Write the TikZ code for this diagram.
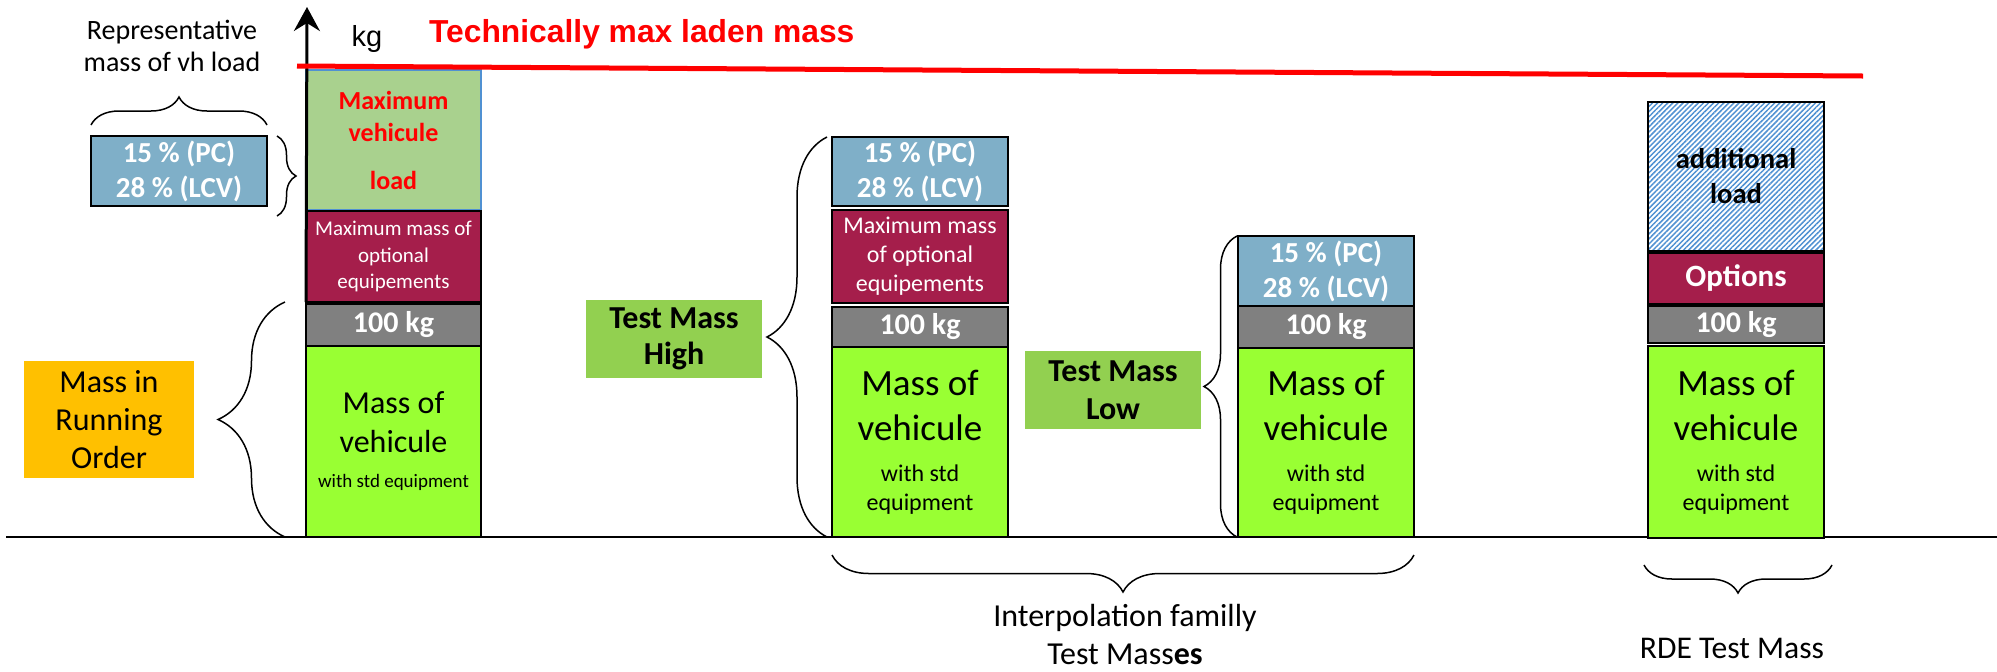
\documentclass[tikz,border=0pt]{standalone}
\usepackage{fontspec}
\setmainfont{Carlito}
\newfontfamily\arialfont{Liberation Sans}
\usetikzlibrary{positioning,arrows.meta,decorations.pathreplacing,patterns.meta}
\definecolor{pctblue}{RGB}{127,175,200}
\definecolor{loadgreen}{RGB}{169,209,142}
\definecolor{optred}{RGB}{165,30,75}
\definecolor{kggray}{RGB}{128,128,128}
\definecolor{vehgreen}{RGB}{153,255,51}
\definecolor{mroorange}{RGB}{255,192,0}
\definecolor{testgreen}{RGB}{146,208,80}
\definecolor{hatchblue}{RGB}{80,145,210}
\newcommand{\fsz}[2]{\fontsize{#1}{#2}\selectfont}
\tikzset{
  bar/.style={draw=black, line width=0.8pt, inner sep=0pt, outer sep=0pt, align=center, minimum width=88pt},
  pctbox/.style={bar, fill=pctblue, text=white, font=\bfseries\fsz{14.5}{17.5}},
  optbox/.style={bar, fill=optred, text=white},
  kgbox/.style={bar, fill=kggray, text=white, font=\bfseries\fsz{15}{18}},
  vehbox/.style={bar, fill=vehgreen},
  tagbox/.style={inner sep=0pt, align=center, minimum width=88pt, minimum height=39pt},
  curly/.style={decorate, decoration={brace, amplitude=#1}, line width=0.75pt},
}

\begin{document}
\begin{tikzpicture}[x=0.5pt, y=-0.5pt]
\useasboundingbox (0,0) rectangle (1997,671);
\coordinate (gl) at (6,537);
\coordinate (gr) at (1997,537);
\draw[line width=1pt] (gl) -- (gr);

\node[font=\fsz{14}{16}, align=center] (repr) at (172,46) {Representative\\mass of vh load};
\node[pctbox, minimum height=35pt] (pct1) at (179,171) {15 \% (PC)\\28 \% (LCV)};
\node[font=\arialfont\fsz{14.5}{17}] (kg) at (367,39) {kg};
\node[font=\arialfont\bfseries\fsz{15.9}{19}, text=red, anchor=base west] (tmlm) at (422,42) {Technically max laden mass};

\node[bar, fill=loadgreen, draw=hatchblue, minimum width=87.5pt, minimum height=70pt, text=red, font=\bfseries\fsz{13}{16}] (load1) at (393.5,140) {Maximum\\vehicule\\[8pt]load};
\node[optbox, minimum width=87.5pt, minimum height=45.5pt, font=\fsz{10.5}{13.25}] (opt1) at (393.5,256.5) {Maximum mass of\\optional\\equipements};
\node[kgbox, minimum width=87.5pt, minimum height=21pt] (kg1) at (393.5,325) {100 kg};
\node[vehbox, minimum width=87.5pt, minimum height=95.5pt, font=\fsz{16}{19.5}] (veh1) at (393.5,441.5) {Mass of\\vehicule\\[-2pt]\fsz{9.5}{11}with std equipment};

\node[tagbox, fill=mroorange, minimum width=85pt, minimum height=58.5pt, font=\fsz{16}{19}] (mro) at (109,419.5) {Mass in\\Running\\Order};

\node[pctbox, minimum height=34.5pt] (pct2) at (920,171.5) {15 \% (PC)\\28 \% (LCV)};
\node[optbox, minimum height=46.5pt, font=\fsz{12}{14.5}] (opt2) at (920,256.5) {Maximum mass\\of optional\\equipements};
\node[kgbox, minimum height=20pt] (kg2) at (920,327) {100 kg};
\node[vehbox, minimum height=95pt, font=\fsz{18.5}{22.5}] (veh2) at (920,442) {Mass of\\vehicule\\[-2pt]\fsz{12}{14.5}with std\\[-8pt]\fsz{12}{14.5}equipment};
\node[tagbox, fill=testgreen, font=\bfseries\fsz{16}{18}] (tmh) at (674,339) {Test Mass\\High};

\node[pctbox, minimum height=35pt] (pct3) at (1326,271) {15 \% (PC)\\28 \% (LCV)};
\node[kgbox, minimum height=21pt] (kg3) at (1326,327) {100 kg};
\node[vehbox, minimum height=94.5pt, font=\fsz{18.5}{22.5}] (veh3) at (1326,442.5) {Mass of\\vehicule\\[-2pt]\fsz{12}{14.5}with std\\[-8pt]\fsz{12}{14.5}equipment};
\node[tagbox, fill=testgreen, font=\bfseries\fsz{16}{19}] (tml) at (1113,390) {Test Mass\\Low};

\node[bar, pattern={Lines[angle=45,distance=1.8pt,line width=0.75pt]}, pattern color=hatchblue, minimum height=74.5pt, font=\bfseries\fsz{14.3}{17.5}] (add4) at (1736,176.5) {additional\\load};
\node[optbox, minimum height=25.5pt, font=\bfseries\fsz{15.5}{18}] (opt4) at (1736,278.5) {Options};
\node[kgbox, minimum height=18.5pt] (kg4) at (1736,324.5) {100 kg};
\node[vehbox, minimum height=96pt, font=\fsz{18.5}{22.5}] (veh4) at (1736,442) {Mass of\\vehicule\\[-2pt]\fsz{12}{14.5}with std\\[-8pt]\fsz{12}{14.5}equipment};

\node[align=center, font=\fsz{16}{19}] (interp) at (1125,634) {Interpolation familly\\Test Mass\textbf{es}};
\node[font=\fsz{15.8}{19}] (rde) at (1732,648) {RDE Test Mass};

\coordinate (top) at (307,7);
\draw[line width=1.5pt, -{Stealth[length=12pt,width=13pt,inset=4pt]}] (opt1.south west) -- (top);
\coordinate (redl) at (297,66);
\coordinate (redr) at (1863,76);
\draw[red, line width=2.5pt] (redl) -- (redr);

\draw[curly=14pt] ([yshift=5.5pt]pct1.north west) -- ([yshift=5.5pt]pct1.north east);
\draw[curly=9.5pt] ([xshift=5pt]pct1.north east) -- ([xshift=5pt,yshift=-40pt]pct1.north east);
\draw[curly=33.5pt] ([xshift=-10.5pt]veh1.south west) -- ([xshift=-10.5pt]opt1.south west);
\draw[curly=30pt] ([xshift=-2.5pt]veh2.south west) -- ([xshift=-2.5pt]pct2.north west);
\draw[curly=16.5pt] ([xshift=-0.5pt]veh3.south west) -- ([xshift=-0.5pt]pct3.north west);
\draw[curly=18.5pt] ([yshift=-9pt]veh3.south east) -- ([yshift=-9pt]veh2.south west);
\draw[curly=14pt] ([xshift=4pt,yshift=-13.5pt]veh4.south east) -- ([xshift=-2pt,yshift=-13.5pt]veh4.south west);
\end{tikzpicture}
\end{document}
